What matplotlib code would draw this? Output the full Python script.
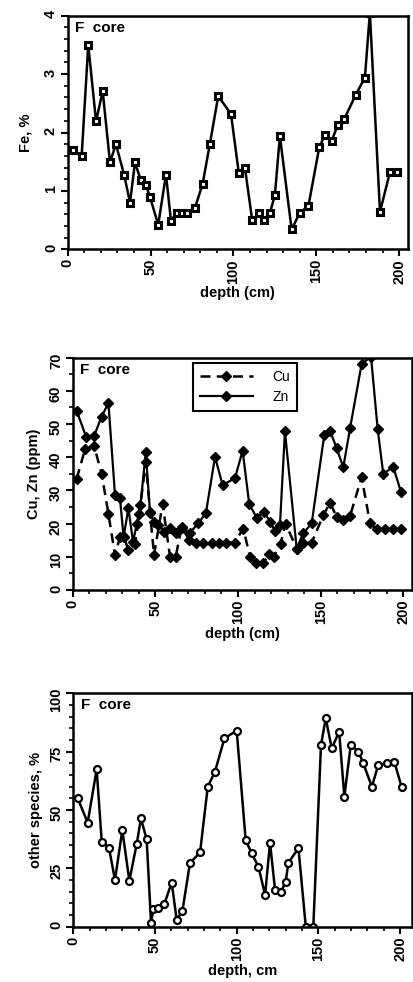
import matplotlib
matplotlib.use("Agg")
import matplotlib.pyplot as plt
from matplotlib.ticker import MultipleLocator

plt.rcParams['font.family'] = ['Liberation Sans', 'DejaVu Sans']
plt.rcParams['font.weight'] = 'bold'

# ---------------- data ----------------
fe_depth = [1.4, 3.4, 8.4, 12.4, 17.1, 21.1, 25.5, 29.1, 34.0, 37.6, 40.6, 44.0, 47.2, 49.6,
            54.6, 59.3, 62.3, 65.7, 68.8, 71.8, 76.8, 81.4, 85.8, 90.8, 98.5, 103.2, 106.9,
            111.3, 115.6, 118.4, 122.0, 125.0, 128.0, 135.1, 140.1, 145.2, 151.8, 155.2,
            159.2, 162.9, 166.8, 173.9, 179.3, 182.3, 188.4, 194.4, 198.4]
fe = [1.70, 1.70, 1.59, 3.50, 2.19, 2.71, 1.49, 1.80, 1.28, 0.80, 1.49, 1.19, 1.10, 0.90,
      0.42, 1.28, 0.49, 0.62, 0.62, 0.62, 0.71, 1.12, 1.81, 2.62, 2.32, 1.31, 1.40,
      0.50, 0.62, 0.50, 0.62, 0.93, 1.94, 0.34, 0.63, 0.74, 1.75, 1.96,
      1.85, 2.13, 2.23, 2.65, 2.94, 4.05, 0.64, 1.32, 1.32]

cu_depth = [2.4, 7.5, 12.9, 17.5, 21.6, 25.6, 28.6, 31.0, 33.7, 37.7, 40.3, 44.2, 46.8, 49.2,
            54.4, 58.9, 62.3, 65.9, 70.6, 74.5, 79.0, 84.0, 88.5, 93.0, 98.0, 103.2, 107.3,
            110.9, 115.3, 118.5, 121.5, 125.8, 128.8, 135.5, 139.5, 144.6, 151.6, 155.7,
            159.7, 163.7, 167.8, 174.8, 179.9, 183.9, 188.9, 193.9, 198.6]
cu = [33.5, 42.5, 43.5, 35.0, 23.0, 10.5, 16.0, 16.0, 12.0, 14.0, 23.0, 38.5, 23.5, 10.5,
      26.0, 10.0, 10.0, 19.0, 15.0, 14.3, 14.3, 14.3, 14.3, 14.3, 14.3, 18.5, 10.0,
      8.0, 8.0, 10.8, 10.0, 14.0, 20.0, 12.5, 14.3, 14.3, 22.5, 26.3,
      22.0, 21.0, 22.3, 34.0, 20.1, 18.3, 18.3, 18.3, 18.3]

zn_depth = [2.4, 8.1, 12.9, 17.5, 21.6, 25.6, 28.6, 30.8, 33.7, 36.5, 38.8, 41.0, 44.2, 46.8,
            49.2, 51.8, 55.4, 58.9, 62.3, 65.9, 71.0, 76.0, 80.6, 86.1, 90.7, 98.2, 102.8,
            106.8, 111.3, 115.7, 119.4, 122.4, 125.4, 128.4, 135.5, 139.5, 144.6, 152.2,
            155.7, 159.7, 163.7, 167.8, 174.8, 180.5, 184.5, 187.9, 193.9, 198.6]
zn = [54.0, 46.2, 46.4, 52.2, 56.4, 28.6, 27.6, 16.0, 24.6, 14.5, 20.0, 25.6, 41.5, 23.3,
      20.5, 19.6, 17.6, 18.6, 17.1, 18.6, 17.3, 20.1, 23.2, 40.1, 31.6, 33.7, 42.0,
      25.9, 21.8, 23.6, 20.6, 17.8, 19.6, 47.8, 12.5, 17.1, 20.1, 46.7,
      48.0, 42.7, 37.0, 48.7, 68.1, 70.3, 48.5, 35.0, 37.1, 29.6]

sp_depth = [2.7, 8.8, 14.3, 17.4, 21.9, 25.5, 30.0, 34.3, 38.8, 41.4, 44.9, 47.6, 49.0, 51.6,
            55.7, 60.2, 63.3, 66.8, 71.4, 77.6, 82.3, 86.7, 92.5, 100.0, 105.5, 109.2,
            113.3, 117.4, 120.4, 123.5, 127.2, 130.0, 131.6, 137.8, 142.3, 146.9, 151.6,
            154.5, 158.2, 162.7, 165.9, 169.8, 174.5, 177.5, 182.7, 186.7, 191.9, 196.5, 201.0]
species = [55.0, 44.6, 67.4, 36.4, 33.6, 20.0, 41.4, 19.7, 35.4, 46.4, 37.4, 1.5, 7.5, 7.9,
           9.7, 18.9, 2.9, 6.9, 27.2, 31.9, 60.0, 66.4, 80.7, 84.0, 37.1, 31.4,
           25.7, 13.6, 36.0, 15.7, 15.0, 19.3, 27.4, 33.6, 0.0, 0.0, 77.8,
           89.3, 76.4, 83.6, 55.7, 77.8, 75.0, 70.0, 60.0, 69.3, 70.0, 70.7, 59.7]

x_ticks = [0, 50, 100, 150, 200]

# ---------------- figure ----------------
W, H = 413, 982
fig = plt.figure(figsize=(W / 100, H / 100), dpi=100)
fig.patch.set_facecolor('white')


def make_axes(left, top, right, bottom):
    return fig.add_axes([left / W, 1 - bottom / H, (right - left) / W, (bottom - top) / H])


def style(ax, xmax, ymax, ymaj, ymin, xlabel, ylabel, ylabelpad):
    ax.set_xlim(0, xmax)
    ax.set_ylim(0, ymax)
    ax.set_xticks(x_ticks)
    ax.xaxis.set_minor_locator(MultipleLocator(10))
    ax.yaxis.set_major_locator(MultipleLocator(ymaj))
    ax.yaxis.set_minor_locator(MultipleLocator(ymin))
    for s in ax.spines.values():
        s.set_linewidth(1.8)
    ax.tick_params(which='major', direction='out', length=5, width=1.5, labelsize=10.5, pad=2)
    ax.tick_params(which='minor', direction='out', length=3, width=1.2)
    ax.tick_params(axis='x', labelrotation=90)
    ax.tick_params(axis='y', labelrotation=90)
    for lab in ax.get_xticklabels() + ax.get_yticklabels():
        lab.set_fontweight('bold')
    ax.set_xlabel(xlabel, fontsize=10.5, fontweight='bold', labelpad=2)
    ax.set_ylabel(ylabel, fontsize=10.5, fontweight='bold', labelpad=ylabelpad)
    ax.text(0.022, 0.978, 'F  core', transform=ax.transAxes, ha='left', va='top',
            fontsize=11, fontweight='bold')


# Panel 1: Fe
ax1 = make_axes(67.7, 15.7, 408.0, 249.3)
ax1.plot(fe_depth, fe, color='black', lw=1.8, marker='s', ms=4.6, mfc='white',
         mec='black', mew=2.2)
style(ax1, 205.3, 4, 1, 0.2, 'depth (cm)', 'Fe, %', 8)

# Panel 2: Cu, Zn
ax2 = make_axes(72.7, 357.7, 411.7, 590.0)
ax2.plot(cu_depth, cu, color='black', lw=1.8, ls=(0, (4, 2.5)), marker='D', ms=4.8,
         mfc='black', mec='black', label='Cu')
ax2.plot(zn_depth, zn, color='black', lw=1.6, ls='-', marker='D', ms=4.8,
         mfc='black', mec='black', label='Zn')
style(ax2, 205.1, 70, 10, 5, 'depth (cm)', 'Cu, Zn (ppm)', 6)
leg = ax2.legend(loc='upper left', bbox_to_anchor=(0.355, 0.977), borderaxespad=0,
                 fancybox=False, framealpha=1, edgecolor='black', handlelength=3.8,
                 handletextpad=1.4, borderpad=0.5, labelspacing=0.45,
                 prop={'size': 10, 'weight': 'normal'})
leg.get_frame().set_linewidth(1.5)

# Panel 3: other species
ax3 = make_axes(73.3, 693.3, 412.0, 926.7)
ax3.plot(sp_depth, species, color='black', lw=1.8, marker='o', ms=5, mfc='white',
         mec='black', mew=1.6)
style(ax3, 207.3, 100, 25, 5, 'depth, cm', 'other species, %', 5)

fig.savefig('out.png', dpi=100)
